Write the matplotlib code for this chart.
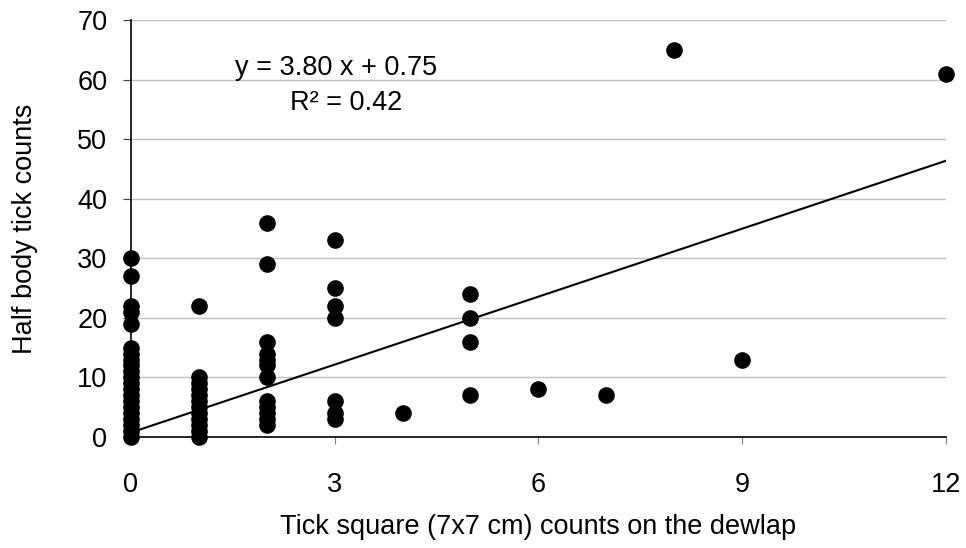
import matplotlib
matplotlib.use("Agg")
import matplotlib.pyplot as plt
import numpy as np

# dewlap counts (x) and half body counts (y)
x0 = [0] * 21
y0 = [30, 27, 22, 21, 19, 15, 14, 13, 12, 11, 10, 9, 8, 7, 6, 5, 4, 3, 2, 1, 0]
x1 = [1] * 12
y1 = [22, 10, 9, 8, 7, 6, 5, 4, 3, 2, 1, 0]
x2 = [2] * 12
y2 = [36, 29, 16, 14, 13, 12, 10, 6, 5, 4, 3, 2]
x3 = [3] * 7
y3 = [33, 25, 22, 20, 6, 4, 3]
x_rest = [4, 5, 5, 5, 5, 6, 7, 8, 9, 12]
y_rest = [4, 24, 20, 16, 7, 8, 7, 65, 13, 61]

slope = 3.80
intercept = 0.75
r2 = 0.42

xs = np.array(x0 + x1 + x2 + x3 + x_rest, dtype=float)
ys = np.array(y0 + y1 + y2 + y3 + y_rest, dtype=float)

plt.rcParams["font.family"] = ["Liberation Sans", "DejaVu Sans"]
FS = 19.5

fig = plt.figure(figsize=(9.66, 5.48), dpi=100)
ax = fig.add_axes([0.1356, 0.2026, 0.8434, 0.761])

ax.set_axisbelow(True)
ax.yaxis.grid(True, color="#c0c0c0", lw=1)
ax.scatter(xs, ys, s=120, color="black", zorder=3, clip_on=False)
xl = np.array([0, 12])
ax.plot(xl, slope * xl + intercept, color="black", lw=1.5, zorder=2)

ax.set_xlim(0, 12)
ax.set_ylim(0, 70)
ax.set_xticks([0, 3, 6, 9, 12])
ax.set_yticks(range(0, 71, 10))
ax.tick_params(axis="x", length=5, color="#808080", labelsize=FS, pad=20)
ax.tick_params(axis="y", length=6, color="#404040", labelsize=FS, pad=11)
for s in ("top", "right"):
    ax.spines[s].set_visible(False)
ax.spines["left"].set_linewidth(1.2)
ax.spines["bottom"].set_linewidth(1.2)

ax.set_xlabel("Tick square (7x7 cm) counts on the dewlap", fontsize=FS, labelpad=12)
ax.set_ylabel("Half body tick counts", fontsize=FS, labelpad=28)

ax.text(0.252, 0.885, f"y = {slope:.2f} x + {intercept:.2f}", transform=ax.transAxes,
        ha="center", va="center", fontsize=FS)
ax.text(0.264, 0.80, f"R² = {r2:.2f}", transform=ax.transAxes,
        ha="center", va="center", fontsize=FS)

fig.savefig("out.png", dpi=100)
